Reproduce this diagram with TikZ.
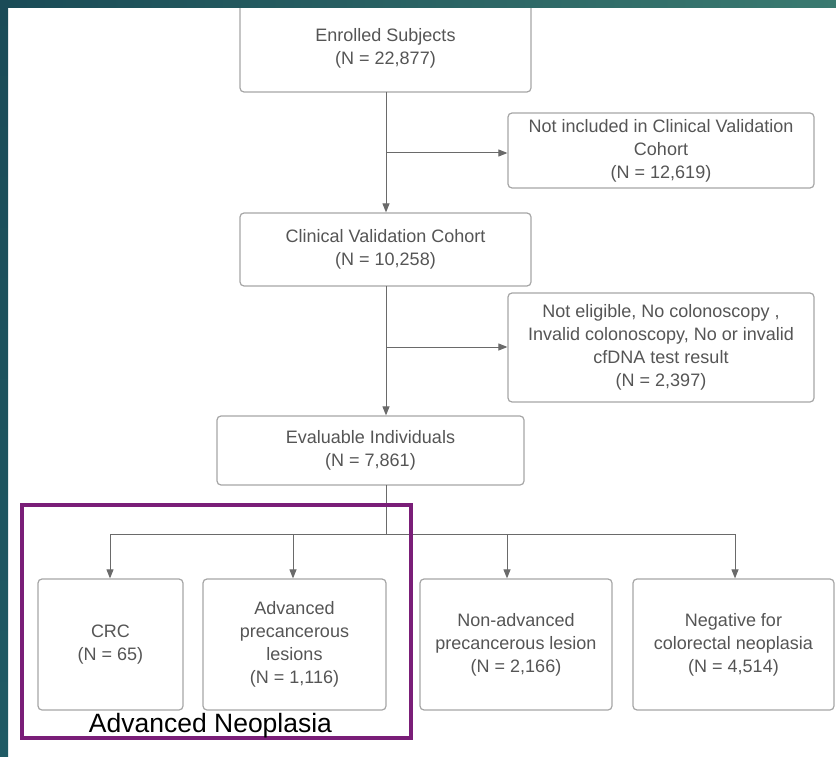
\documentclass[tikz,border=0pt]{standalone}
\usepackage{fontspec}
\setmainfont{Liberation Sans}
\usetikzlibrary{arrows.meta}
\definecolor{tealdark}{HTML}{1A4B57}
\definecolor{tealmid}{HTML}{1F5A64}
\definecolor{teallight}{HTML}{3A7A70}
\definecolor{txtgray}{HTML}{555555}
\definecolor{boxgray}{HTML}{A6A6A6}
\definecolor{linegray}{HTML}{6A6A6A}
\definecolor{purp}{HTML}{7A1E78}
\begin{document}
\begin{tikzpicture}[x=1pt,y=-1pt,
  flowbox/.style={draw=boxgray, line width=1.2pt, rounded corners=4pt, fill=white,
    align=center, text=txtgray, font=\fontsize{18}{23}\selectfont, inner sep=0pt},
  conn/.style={draw=linegray, line width=1pt},
  arr/.style={conn, -{Triangle[length=9pt,width=7pt]}}]
\useasboundingbox (0,0) rectangle (836,757);
\fill[white] (0,0) rectangle (836,757);

% boxes
\node[flowbox, minimum width=291pt, minimum height=88pt] (enr) at (385.5,48) {Enrolled Subjects\\(N = 22,877)};
\node[flowbox, minimum width=306pt, minimum height=75pt] (ninc) at (661,150.5) {Not included in Clinical Validation\\Cohort\\(N = 12,619)};
\node[flowbox, minimum width=291pt, minimum height=73pt] (clin) at (385.5,249.5) {Clinical Validation Cohort\\(N = 10,258)};
\node[flowbox, minimum width=306pt, minimum height=109pt] (nel) at (661,347.5) {Not eligible, No colonoscopy ,\\Invalid colonoscopy, No or invalid\\cfDNA test result\\(N = 2,397)};
\node[flowbox, minimum width=307pt, minimum height=69pt] (eval) at (370.5,450.5) {Evaluable Individuals\\(N = 7,861)};
\node[flowbox, minimum width=145pt, minimum height=131pt] (crc) at (110.5,644.5) {CRC\\(N = 65)};
\node[flowbox, minimum width=183pt, minimum height=131pt] (adv) at (294.5,644.5) {Advanced\\precancerous\\lesions\\(N = 1,116)};
\node[flowbox, minimum width=192pt, minimum height=131pt] (nadv) at (516,644.5) {Non-advanced\\precancerous lesion\\(N = 2,166)};
\node[flowbox, minimum width=201pt, minimum height=131pt] (neg) at (733.5,644.5) {Negative for\\colorectal neoplasia\\(N = 4,514)};

% connectors
\coordinate (t1) at (386,92);
\coordinate (b1) at (386,153);
\coordinate (b2) at (386,347);
\draw[arr] (t1) -- (t1 |- clin.north);
\draw[arr] (b1) -- (b1 -| ninc.west);
\coordinate (t2) at (386,286);
\draw[arr] (t2) -- (t2 |- eval.north);
\draw[arr] (b2) -- (b2 -| nel.west);
\coordinate (t3) at (386,485);
\coordinate (hub) at (386,534);
\coordinate (d1) at (110,534);
\coordinate (d2) at (293,534);
\coordinate (d3) at (507,534);
\coordinate (d4) at (735,534);
\draw[conn] (t3) -- (hub);
\draw[conn] (d1) -- (d4);
\draw[arr] (d1) -- (d1 |- crc.north);
\draw[arr] (d2) -- (d2 |- adv.north);
\draw[arr] (d3) -- (d3 |- nadv.north);
\draw[arr] (d4) -- (d4 |- neg.north);

% advanced neoplasia group
\node[draw=purp, line width=3.2pt, minimum width=389pt, minimum height=233pt, inner sep=0pt] (anbox) at (216.5,621.5) {};
\node[font=\fontsize{26.5}{30}\selectfont, anchor=base, inner sep=0pt] (anlabel) at (210.5,732) {Advanced Neoplasia};

% teal frame
\shade[left color=tealdark, right color=teallight] (0,0) rectangle (836,8);
\shade[top color=tealdark, bottom color=tealmid] (0,0) rectangle (8,757);
\end{tikzpicture}
\end{document}
